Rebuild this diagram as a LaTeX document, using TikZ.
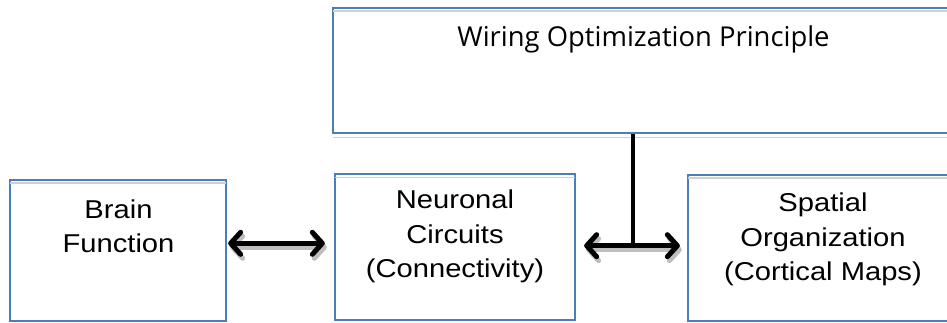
\documentclass[tikz,border=0pt]{standalone}
\usepackage{fontspec}
\setmainfont{Liberation Sans}
\newfontfamily\boxfont[FakeStretch=1.13]{Liberation Sans}
\newfontfamily\titlefont{Open Sans}
\usetikzlibrary{arrows.meta,calc}
\definecolor{boxblue}{HTML}{4A7EBB}
\definecolor{rimgrey}{HTML}{D0D0D0}
\definecolor{arrowshade}{HTML}{BEBEBE}
\begin{document}
\begin{tikzpicture}[x=1pt,y=-1pt,
  panel/.style={draw=boxblue, line width=1.3pt, inner sep=0pt},
  rim/.style={draw=rimgrey, line width=1.8pt},
  lbl/.style={font=\boxfont\fontsize{25.8}{34.5}\selectfont, align=center, anchor=base, inner sep=0pt},
  barbs/.style={{Straight Barb[length=10pt,width=22pt,line width=5pt,line cap=round,line join=round]}-{Straight Barb[length=10pt,width=22pt,line width=5pt,line cap=round,line join=round]}},
  link/.style={barbs, line width=4.6pt, black},
  linkshade/.style={barbs, line width=4.6pt, arrowshade},
]
\useasboundingbox (0,0) rectangle (947,322);
\clip (0,0) rectangle (947,322);

% panels
\node[panel, minimum width=627pt, minimum height=125pt] (wop) at (646.5,70.5) {};
\node[panel, minimum width=216pt, minimum height=140.5pt] (brain) at (118,250.25) {};
\node[panel, minimum width=240pt, minimum height=145.5pt] (neur) at (455,247) {};
\node[panel, minimum width=270pt, minimum height=145.5pt] (spat) at (823,247.75) {};

% soft grey rim under each panel border
\foreach \p in {wop,brain,neur,spat}{
  \draw[rim] ($(\p.north west)+(1,3.8)$) -- ($(\p.north east)+(-1,3.8)$);
  \draw[rim] ($(\p.south west)+(1,3.8)$) -- ($(\p.south east)+(-1,3.8)$);
}
\foreach \p in {wop,brain,neur,spat}{
  \draw[boxblue, line width=1.3pt] (\p.north west) rectangle (\p.south east);
}

% labels (anchored on the baseline of their last line)
\node[font=\titlefont\fontsize{27.4}{32}\selectfont, anchor=base, inner sep=0pt] (wopt) at (643.5,46) {Wiring Optimization Principle};
\node[lbl] (braint) at (118.5,252.5) {Brain\\Function};
\node[lbl] (neurt) at (455,277.5) {Neuronal\\Circuits\\(Connectivity)};
\node[lbl] (spatt) at (823,280.5) {Spatial\\Organization\\(Cortical Maps)};

% connector anchors
\coordinate (la) at ($(brain.east |- 0,243.3)+(1.5,0)$);
\coordinate (lb) at ($(neur.west |- 0,243.3)+(-9.5,0)$);
\coordinate (ra) at ($(neur.east |- 0,245.7)+(8.5,0)$);
\coordinate (rb) at ($(spat.west |- 0,245.7)+(-7.5,0)$);
\coordinate (tee) at (633,245.7);

% shadows of the double arrows
\draw[linkshade] ($(la)+(2,4)$) -- ($(lb)+(2,4)$);
\draw[linkshade] ($(ra)+(2,4)$) -- ($(rb)+(2,4)$);

% connectors
\draw[link] (la) -- (lb);
\draw[link] (ra) -- (rb);
\draw[line width=3.6pt] (wop.south -| tee) -- (tee);
\end{tikzpicture}
\end{document}
